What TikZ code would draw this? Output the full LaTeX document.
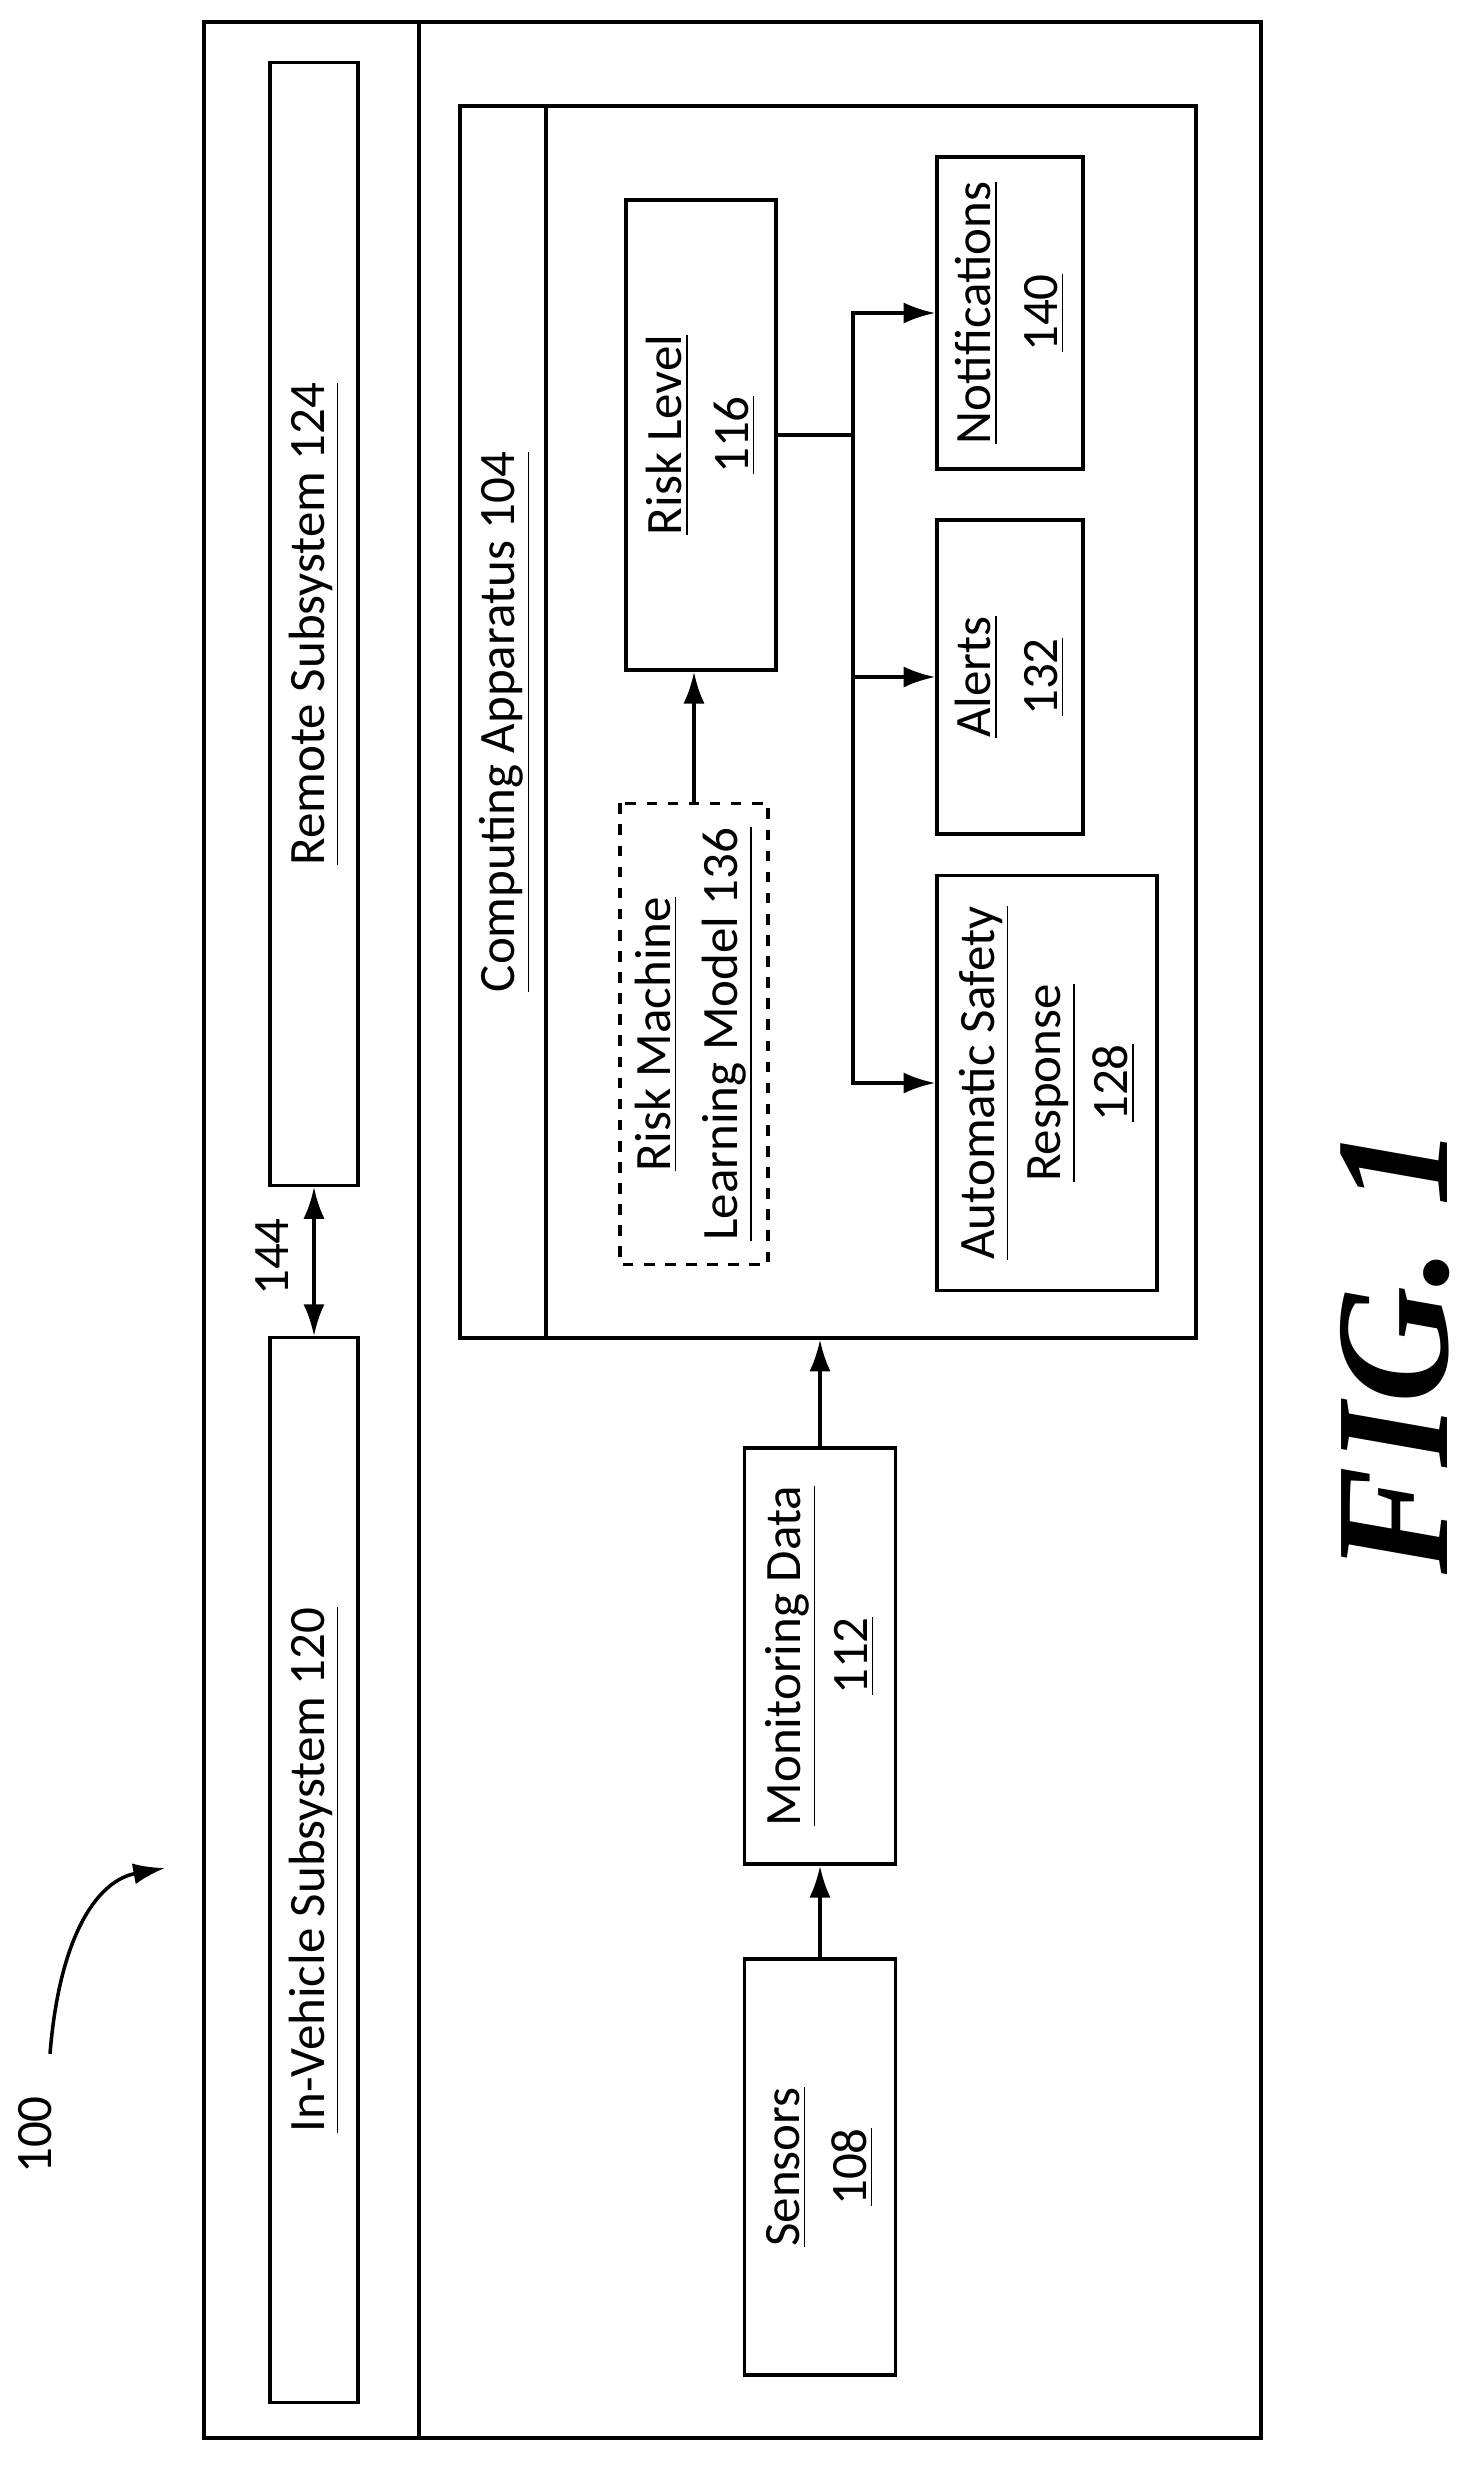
\documentclass[tikz,border=0pt]{standalone}
\usepackage{fontspec}
\setmainfont{Carlito}
\newfontfamily\figfont{Liberation Serif}
\usetikzlibrary{positioning, arrows.meta}
\tikzset{
  box/.style={draw, line width=1pt, rotate=90, align=center, inner sep=0pt,
    font=\fontsize{14.5}{19}\selectfont},
  arrow/.style={line width=1pt, -{Latex[length=9pt,width=6pt]}},
}
\begin{document}
\begin{tikzpicture}[x=0.01cm, y=-0.01cm]
\useasboundingbox (0,0) rectangle (1471,2487);

%-----------outer frame
\draw[line width=1pt] (204,22) rectangle (1261,2438);
\draw[line width=1pt] (419,22) -- (419,2438);

%-----------subsystems
\node (remote) [box, minimum width=11.22cm, minimum height=0.88cm] at (314,624)
  {\underline{Remote Subsystem 124}};
\node (vehicle) [box, minimum width=10.64cm, minimum height=0.88cm] at (314,1870)
  {\underline{In-Vehicle Subsystem 120}};
\draw [line width=1pt, {Latex[length=9pt,width=6pt]}-{Latex[length=9pt,width=6pt]}] (vehicle.east) -- (remote.west);
\node (link) [rotate=90, font=\fontsize{14.5}{17}\selectfont] at (272,1257) {144};

%-----------computing apparatus
\node (comp) [box, minimum width=12.31cm, minimum height=7.36cm] at (828,722) {};
\draw[line width=1pt] (546,107) -- (546,1338);
\node (complabel) [rotate=90, font=\fontsize{14.5}{17}\selectfont] at (505,722)
  {\underline{Computing Apparatus 104}};

\node (risk) [box, minimum width=4.70cm, minimum height=1.50cm] at (701,435)
  {\underline{Risk Level}\\\underline{116}};
\node (model) [box, dashed, minimum width=4.61cm, minimum height=1.48cm] at (694,1034)
  {\underline{Risk Machine}\\\underline{Learning Model 136}};
\node (notif) [box, minimum width=3.12cm, minimum height=1.46cm] at (1010,313)
  {\underline{Notifications}\\\underline{140}};
\node (alerts) [box, minimum width=3.14cm, minimum height=1.46cm] at (1010,677)
  {\underline{Alerts}\\\underline{132}};
\node (safety) [box, minimum width=4.15cm, minimum height=2.20cm] at (1047,1083)
  {\underline{Automatic Safety}\\\underline{Response}\\\underline{128}};

%-----------monitoring chain
\node (monitor) [box, minimum width=4.16cm, minimum height=1.51cm] at (820,1656)
  {\underline{Monitoring Data}\\\underline{112}};
\node (sensors) [box, minimum width=4.16cm, minimum height=1.51cm] at (820,2167)
  {\underline{Sensors}\\\underline{108}};

\coordinate (split) at (853,435);
\draw [line width=1pt] (risk.south) -- (split);
\draw [arrow] (split) |- (notif.north);
\draw [arrow] (split) |- (alerts.north);
\draw [arrow] (split) |- (safety.north);
\draw [arrow] (model.east) -- (model.east |- risk.west);
\draw [arrow] (sensors.east) -- (monitor.west);
\draw [arrow] (monitor.east) -- (monitor.east |- comp.west);

%-----------reference label
\node (sys) [rotate=90, font=\fontsize{14.5}{17}\selectfont] at (35,2135) {100};
\coordinate (sysend) at (165,1868);
\draw [arrow] (sys.east) ++(15,-30) .. controls (60,1930) and (100,1880) .. (sysend);

\node (fig) [rotate=90, font=\figfont\bfseries\itshape\fontsize{46}{50}\selectfont] at (1395,1350) {FIG. 1};
\end{tikzpicture}
\end{document}
